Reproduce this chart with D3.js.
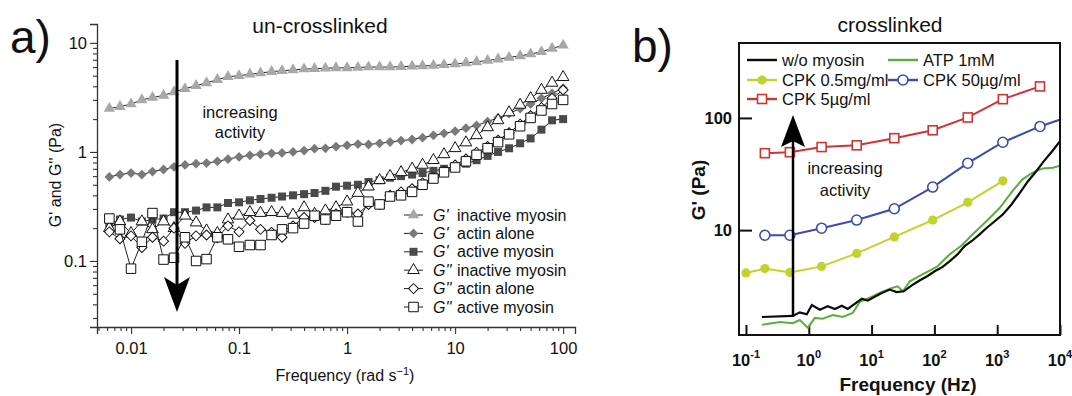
<!DOCTYPE html>
<html><head><meta charset="utf-8">
<script src="https://cdn.jsdelivr.net/npm/d3@7"></script>
<style>body{margin:0;background:#fff}svg{display:block}text{font-family:"Liberation Sans",Arial,Helvetica,sans-serif;fill:#111}</style>
</head><body><svg id="c" width="1072" height="396"></svg>
<script>
// ---------- Panel a) data ----------
const leftFreq = [0.0063,0.0079,0.01,0.0126,0.0158,0.02,0.025,0.0316,0.04,0.05,0.063,0.079,0.1,0.126,0.158,0.2,0.25,0.316,0.4,0.5,0.63,0.79,1,1.26,1.58,2,2.5,3.16,4,5,6.3,7.9,10,12.6,15.8,20,25,31.6,40,50,63,79,100];
const gpInactive = [2.5,2.6,2.75,3.0,3.15,3.3,3.55,3.8,4.05,4.3,4.6,4.9,5.0,5.15,5.3,5.45,5.55,5.65,5.75,5.8,5.85,5.9,5.9,5.95,6.0,6.0,6.0,6.05,6.1,6.15,6.2,6.3,6.4,6.55,6.7,6.9,7.1,7.35,7.6,7.9,8.3,8.9,9.5];
const gpActin = [0.59,0.62,0.64,0.62,0.66,0.69,0.73,0.76,0.78,0.79,0.82,0.86,0.90,0.93,0.95,0.97,0.98,1.0,1.03,1.07,1.08,1.12,1.15,1.18,1.17,1.2,1.23,1.27,1.3,1.35,1.42,1.48,1.55,1.65,1.75,1.9,2.05,2.25,2.5,2.75,3.1,3.45,3.85];
const gpActive = [0.22,0.24,0.25,0.23,0.24,0.245,0.28,0.28,0.29,0.31,0.31,0.34,0.345,0.36,0.37,0.38,0.39,0.40,0.41,0.42,0.44,0.48,0.49,0.50,0.53,0.55,0.58,0.60,0.62,0.64,0.67,0.70,0.74,0.78,0.84,0.92,1.0,1.08,1.2,1.33,1.6,1.95,2.0];
const gppInactive = [0.20,0.23,0.18,0.23,0.195,0.23,0.20,0.26,0.225,0.19,0.18,0.24,0.26,0.28,0.275,0.28,0.275,0.265,0.31,0.27,0.29,0.31,0.35,0.42,0.48,0.55,0.60,0.65,0.70,0.76,0.84,0.95,1.08,1.22,1.42,1.68,1.95,2.3,2.7,3.1,3.7,4.3,4.85];
const gppActin = [0.185,0.16,0.17,0.133,0.165,0.152,0.2,0.145,0.17,0.173,0.163,0.21,0.185,0.235,0.195,0.183,0.165,0.21,0.25,0.25,0.24,0.27,0.28,0.27,0.33,0.33,0.40,0.43,0.46,0.52,0.58,0.67,0.76,0.86,0.99,1.12,1.28,1.5,1.8,2.15,2.55,3.1,3.7];
const gppActive = [0.245,0.195,0.085,0.15,0.275,0.103,0.107,0.165,0.10,0.104,0.165,0.158,0.135,0.14,0.14,0.173,0.195,0.20,0.22,0.26,0.24,0.26,0.28,0.23,0.35,0.33,0.39,0.40,0.43,0.5,0.57,0.65,0.72,0.82,0.94,1.08,1.23,1.45,1.72,2.05,2.4,2.75,3.0];
const leftSeriesNames = ["inactive myosin","actin alone","active myosin","inactive myosin","actin alone","active myosin"];
const leftSeriesPrefix = ["G'","G'","G'","G''","G''","G''"];
const xTicksL = [0.01,0.1,1,10,100];
const xTickLabelsL = ["0.01","0.1","1","10","100"];
const yTicksL = [0.1,1,10];
const yTickLabelsL = ["0.1","1","10"];

// ---------- Panel b) data ----------
const rFreq = [0.1,0.2,0.5,1.6,5.8,23,94,340,1230,4800,18000];
const cpk05 = [4.15,4.55,4.2,4.75,6.2,8.7,12.3,17.7,27.5,null,null];
const cpk50 = [null,9.0,9.0,10.4,12.3,15.5,24.2,39.5,60.7,84,108];
const cpk5 = [null,48.5,49.5,55,57,66,77.6,101,147,191,null];
const noMyoFreq = [0.179,0.556,0.72,0.93,1.12,1.5,2.0,2.6,3.35,4.17,5.4,7.0,8.7,11.2,14.5,19.5,25,32.6,43,58,78,101,135,176,235,303,395,530,685,915,1230,1700,2300,3050,4100,5500,7400,10000];
const noMyoG = [1.68,1.72,1.85,1.78,2.15,1.95,2.1,1.98,2.12,1.98,2.2,2.45,2.35,2.55,2.75,2.95,2.8,2.85,3.2,3.55,3.9,4.3,4.7,5.3,6.1,7.2,8.0,9.2,10.5,12,13.8,17,21.5,27,33,41,50,62];
const atpFreq = [0.179,0.345,0.556,0.719,0.964,1.25,1.67,2.41,3.47,5.02,6.5,9.36,13.5,21,26,31.5,40.7,65.6,109,176,272,408,685,1100,1770,2550,3680,5300,7700,10000];
const atpG = [1.43,1.52,1.48,1.58,1.35,1.65,1.62,1.75,1.68,1.83,2.3,2.5,2.75,3.05,3.15,2.85,3.5,4.05,4.7,6.1,7.3,9.2,12.1,15.8,22.5,28.5,32.5,35.5,36,37.5];
const xTicksR = [0.1,1,10,100,1000,10000];
const xTickExpR = ["-1","0","1","2","3","4"];
const yTicksR = [10,100];
const yTickLabelsR = ["10","100"];

const svg = d3.select("#c");

// ===================== Panel a =====================
const xL = d3.scaleLog().domain([Math.pow(10,-2.315), Math.pow(10,2.11)]).range([97, 575]);
const yL = d3.scaleLog().domain([0.0248, 14.9]).range([327, 24]);
const gA = svg.append("g");

function minorTicks(domain) {
  const out = [];
  for (let d = -4; d <= 4; d++) for (let k = 2; k <= 9; k++) {
    const v = k * Math.pow(10, d);
    if (v >= domain[0] && v <= domain[1]) out.push(v);
  }
  return out;
}

gA.append("g").attr("transform","translate(0,327)")
  .call(d3.axisBottom(xL).tickValues(xTicksL).tickSize(7).tickPadding(8).tickFormat((d,i)=>xTickLabelsL[i]));
gA.append("g").attr("transform","translate(0,327)")
  .call(d3.axisBottom(xL).tickValues(minorTicks(xL.domain())).tickSize(4).tickFormat(""))
  .select(".domain").remove();
gA.append("g").attr("transform","translate(97,0)")
  .call(d3.axisLeft(yL).tickValues(yTicksL).tickSize(7).tickPadding(3).tickFormat((d,i)=>yTickLabelsL[i]));
gA.append("g").attr("transform","translate(97,0)")
  .call(d3.axisLeft(yL).tickValues(minorTicks(yL.domain())).tickSize(4).tickFormat(""))
  .select(".domain").remove();
gA.selectAll(".domain").attr("stroke","#333").attr("stroke-width",1.3);
gA.selectAll(".tick line").attr("stroke","#333").attr("stroke-width",1.1);
gA.selectAll(".tick text").attr("font-size",16.5).attr("fill","#222").style("font-family",'"Liberation Sans",Arial,sans-serif');

const xt = gA.append("text").attr("x",345).attr("y",381).attr("text-anchor","middle").attr("font-size",16);
xt.append("tspan").text("Frequency (rad s");
xt.append("tspan").attr("font-size",11).attr("dy",-6).text("\u22121");
xt.append("tspan").attr("dy",6).attr("font-size",16).text(")");
gA.append("text").attr("transform","translate(61,175) rotate(-90)").attr("text-anchor","middle").attr("font-size",16)
  .text("G' and G'' (Pa)");
gA.append("text").attr("x",320).attr("y",33).attr("text-anchor","middle").attr("font-size",21).text("un-crosslinked");
gA.append("text").attr("x",10).attr("y",53).attr("font-size",46).text("a)");

const markerDefs = {
  triFilled:  {sym:d3.symbolTriangle, size:56, fill:"#a8a8a8", stroke:"none", rot:0},
  diaFilled:  {sym:d3.symbolSquare,   size:48, fill:"#7a7a7a", stroke:"none", rot:45},
  sqFilled:   {sym:d3.symbolSquare,   size:64, fill:"#4a4a4a", stroke:"none", rot:0},
  triOpen:    {sym:d3.symbolTriangle, size:58, fill:"#fff", stroke:"#111", rot:0},
  diaOpen:    {sym:d3.symbolSquare,   size:50, fill:"#fff", stroke:"#111", rot:45},
  sqOpen:     {sym:d3.symbolSquare,   size:90, fill:"#fff", stroke:"#111", rot:0}
};
const leftSeries = [
  {vals:gpInactive, m:"triFilled"},
  {vals:gpActin, m:"diaFilled"},
  {vals:gpActive, m:"sqFilled"},
  {vals:gppInactive, m:"triOpen"},
  {vals:gppActin, m:"diaOpen"},
  {vals:gppActive, m:"sqOpen"}
];
function drawMarker(g, key, x, y) {
  const md = markerDefs[key];
  g.append("path").attr("d", d3.symbol().type(md.sym).size(md.size)())
    .attr("transform", `translate(${x},${y}) rotate(${md.rot})`)
    .attr("fill", md.fill).attr("stroke", md.stroke).attr("stroke-width", 1);
}
const lineL = d3.line().x(d=>xL(d[0])).y(d=>yL(d[1]));
leftSeries.forEach(s => {
  const pts = leftFreq.map((f,i)=>[f, s.vals[i]]);
  const g = gA.append("g");
  g.append("path").attr("d", lineL(pts)).attr("fill","none").attr("stroke","#222").attr("stroke-width",1);
  pts.forEach(p => drawMarker(g, s.m, xL(p[0]), yL(p[1])));
});

const legA = gA.append("g");
leftSeries.forEach((s,i) => {
  const y = 215 + i*18.4;
  legA.append("line").attr("x1",404).attr("x2",423).attr("y1",y).attr("y2",y).attr("stroke","#222").attr("stroke-width",1);
  drawMarker(legA, s.m, 413.5, y);
  legA.append("text").attr("x",433).attr("y",y+5.5).attr("font-size",16).attr("font-style","italic").text(leftSeriesPrefix[i]);
  legA.append("text").attr("x",457).attr("y",y+5.5).attr("font-size",16).text(leftSeriesNames[i]);
});

const ax = 177;
gA.append("line").attr("x1",ax).attr("x2",ax).attr("y1",60).attr("y2",288).attr("stroke","#000").attr("stroke-width",3);
gA.append("path").attr("d",`M${ax},312 L${ax-13},277 L${ax},285 L${ax+13},277 Z`).attr("fill","#000");
gA.append("text").attr("x",240).attr("y",118).attr("text-anchor","middle").attr("font-size",16.5).text("increasing");
gA.append("text").attr("x",240).attr("y",138).attr("text-anchor","middle").attr("font-size",16.5).text("activity");

// ===================== Panel b =====================
const xR = d3.scaleLog().domain([Math.pow(10,-1.111), 1e4]).range([739, 1060]);
const yR = d3.scaleLog().domain([Math.pow(10,0.065), Math.pow(10,2.668)]).range([335, 43]);
const gB = svg.append("g");
gB.append("defs").append("clipPath").attr("id","clipR").append("rect")
  .attr("x",739).attr("y",43).attr("width",321).attr("height",292);

gB.append("g").attr("transform","translate(0,335)")
  .call(d3.axisBottom(xR).tickValues(xTicksR).tickSize(-10).tickFormat(""))
  .call(g=>g.select(".domain").remove());
gB.append("g").attr("transform","translate(739,0)")
  .call(d3.axisLeft(yR).tickValues(yTicksR).tickSize(-13).tickFormat(""))
  .call(g=>g.select(".domain").remove());
gB.selectAll(".tick line").attr("stroke","#111").attr("stroke-width",2);

xTicksR.forEach((v,i) => {
  const t = gB.append("text").attr("x", xR(v)).attr("y", 366).attr("text-anchor","middle")
    .attr("font-size",16.5).attr("font-weight","bold");
  t.append("tspan").text("10");
  t.append("tspan").attr("dy",-8).attr("font-size",11).text(xTickExpR[i]);
});
yTicksR.forEach((v,i) => {
  gB.append("text").attr("x",732).attr("y",yR(v)+6).attr("text-anchor","end")
    .attr("font-size",16.5).attr("font-weight","bold").text(yTickLabelsR[i]);
});
gB.append("text").attr("x",908).attr("y",391).attr("text-anchor","middle").attr("font-size",19)
  .attr("font-weight","bold").text("Frequency (Hz)");
gB.append("text").attr("transform","translate(705,190) rotate(-90)").attr("text-anchor","middle")
  .attr("font-size",19).attr("font-weight","bold").text("G' (Pa)");
gB.append("text").attr("x",890).attr("y",32).attr("text-anchor","middle").attr("font-size",21).text("crosslinked");
gB.append("text").attr("x",632).attr("y",62).attr("font-size",46).text("b)");

const colBlack = "#0a0a0a", colGreen = "#5aaf3c", colYellow = "#c2d32e", colBlue = "#3b4bb0", colRed = "#cf3434";
const lineR = d3.line().defined(d=>d[1]!=null).x(d=>xR(d[0])).y(d=>yR(d[1]));
const plotB = gB.append("g").attr("clip-path","url(#clipR)");

plotB.append("path").attr("d", lineR(atpFreq.map((f,i)=>[f,atpG[i]]))).attr("fill","none").attr("stroke",colGreen).attr("stroke-width",2);
plotB.append("path").attr("d", lineR(noMyoFreq.map((f,i)=>[f,noMyoG[i]]))).attr("fill","none").attr("stroke",colBlack).attr("stroke-width",2.2);

const rSeries = [
  {vals:cpk05, col:colYellow, m:"dot"},
  {vals:cpk50, col:colBlue, m:"circ"},
  {vals:cpk5, col:colRed, m:"sq"}
];
function drawMarkerR(g, m, col, x, y) {
  if (m === "dot") g.append("circle").attr("cx",x).attr("cy",y).attr("r",4.6).attr("fill",col);
  else if (m === "circ") g.append("circle").attr("cx",x).attr("cy",y).attr("r",5).attr("fill","#fff").attr("stroke",col).attr("stroke-width",1.6);
  else g.append("rect").attr("x",x-4.5).attr("y",y-4.5).attr("width",9).attr("height",9).attr("fill","#fff").attr("stroke",col).attr("stroke-width",1.6);
}
rSeries.forEach(s => {
  const pts = rFreq.map((f,i)=>[f, s.vals[i]]).filter(p=>p[1]!=null);
  plotB.append("path").attr("d", lineR(pts)).attr("fill","none").attr("stroke",s.col).attr("stroke-width",2);
  pts.forEach(p => drawMarkerR(plotB, s.m, s.col, xR(p[0]), yR(p[1])));
});

gB.append("rect").attr("x",739).attr("y",43).attr("width",321).attr("height",292)
  .attr("fill","none").attr("stroke","#111").attr("stroke-width",2);

const legB = gB.append("g");
const legItems = [
  {x:747, y:60, col:colBlack, m:null, label:"w/o myosin"},
  {x:888, y:60, col:colGreen, m:null, label:"ATP 1mM"},
  {x:747, y:80, col:colYellow, m:"dot", label:"CPK 0.5mg/ml"},
  {x:888, y:80, col:colBlue, m:"circ", label:"CPK 50\u00b5g/ml"},
  {x:747, y:99, col:colRed, m:"sq", label:"CPK 5\u00b5g/ml"}
];
legItems.forEach(it => {
  legB.append("line").attr("x1",it.x).attr("x2",it.x+30).attr("y1",it.y).attr("y2",it.y).attr("stroke",it.col).attr("stroke-width",2.4);
  if (it.m) drawMarkerR(legB, it.m, it.col, it.x+15, it.y);
  legB.append("text").attr("x",it.x+35).attr("y",it.y+5.5).attr("font-size",16.5).text(it.label);
});

const bx = 793;
gB.append("line").attr("x1",bx).attr("x2",bx).attr("y1",317).attr("y2",140).attr("stroke","#000").attr("stroke-width",2.5);
gB.append("path").attr("d",`M${bx},115 L${bx-12},147 L${bx},141 L${bx+12},147 Z`).attr("fill","#000");
gB.append("text").attr("x",845).attr("y",174).attr("text-anchor","middle").attr("font-size",16.5).text("increasing");
gB.append("text").attr("x",845).attr("y",196).attr("text-anchor","middle").attr("font-size",16.5).text("activity");
</script></body></html>
